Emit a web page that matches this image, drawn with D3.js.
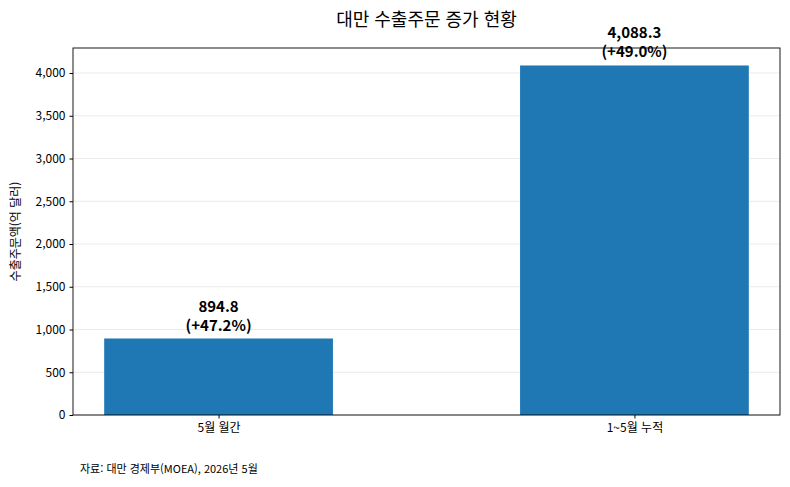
<!DOCTYPE html>
<html lang="ko">
<head>
<meta charset="UTF-8" />
<script src="https://cdn.jsdelivr.net/npm/d3@7"></script>
<style>
  body { margin: 0; background: #fff; font-family: "Noto Sans CJK KR", "Noto Sans", sans-serif; }
</style>
</head>
<body>
<div id="chart"></div>
<script>
const categories = ["5월 월간", "1~5월 누적"];
const values = [894.8, 4088.3];
const growth = ["+47.2%", "+49.0%"];
const yTicks = [0, 500, 1000, 1500, 2000, 2500, 3000, 3500, 4000];

const W = 790, H = 487;
const margin = { top: 48, right: 10, bottom: 72, left: 73 };
const width = W - margin.left - margin.right,
  height = H - margin.top - margin.bottom;

const svg = d3.select("#chart").append("svg").attr("width", W).attr("height", H);
const g = svg.append("g").attr("transform", `translate(${margin.left},${margin.top})`);

// numeric x like matplotlib: bars at 0,1 width 0.55
const x = d3.scaleLinear().domain([-0.35, 1.35]).range([0, width]);
const y = d3.scaleLinear().domain([0, d3.max(values) * 1.05]).range([height, 0]);
const bw = 0.55;

// grid
g.selectAll(".grid").data(yTicks).enter().append("line")
  .attr("x1", 0).attr("x2", width)
  .attr("y1", d => y(d)).attr("y2", d => y(d))
  .attr("stroke", "#e6e6e6").attr("stroke-width", 0.8);

g.selectAll(".bar").data(values).enter().append("rect")
  .attr("x", (d, i) => x(i - bw / 2))
  .attr("width", x(bw) - x(0))
  .attr("y", d => y(d))
  .attr("height", d => height - y(d))
  .attr("fill", "#1f77b4");

// labels
const lab = g.selectAll(".label").data(values).enter().append("text")
  .attr("x", (d, i) => x(i))
  .attr("y", d => y(d) - 27)
  .attr("text-anchor", "middle")
  .attr("font-size", 15).attr("font-weight", "bold").attr("fill", "#000");
lab.append("tspan").attr("x", (d, i) => x(i)).text(d => d3.format(",.1f")(d));
lab.append("tspan").attr("x", (d, i) => x(i)).attr("dy", 19).text((d, i) => `(${growth[i]})`);

// axes
const yAxis = g.append("g").call(d3.axisLeft(y).tickValues(yTicks).tickSize(3.5).tickPadding(4));
const xAxis = g.append("g").attr("transform", `translate(0,${height})`)
  .call(d3.axisBottom(x).tickValues([0, 1]).tickFormat(i => categories[i]).tickSize(3.5).tickPadding(5));
[yAxis, xAxis].forEach(a => {
  a.selectAll("text").attr("font-size", 12).attr("fill", "#000")
    .attr("font-family", "'Noto Sans CJK KR', sans-serif");
  a.select(".domain").remove();
});
g.append("rect").attr("width", width).attr("height", height)
  .attr("fill", "none").attr("stroke", "#000").attr("stroke-width", 0.9);

svg.append("text").attr("x", margin.left + width / 2).attr("y", 26)
  .attr("text-anchor", "middle").attr("font-size", 18).text("대만 수출주문 증가 현황");

svg.append("text").attr("transform", `translate(20,${margin.top + height / 2}) rotate(-90)`)
  .attr("text-anchor", "middle").attr("font-size", 12).text("수출주문액(억 달러)");

svg.append("text").attr("x", 80).attr("y", 473).attr("font-size", 11)
  .text("자료: 대만 경제부(MOEA), 2026년 5월");
</script>
</body>
</html>
